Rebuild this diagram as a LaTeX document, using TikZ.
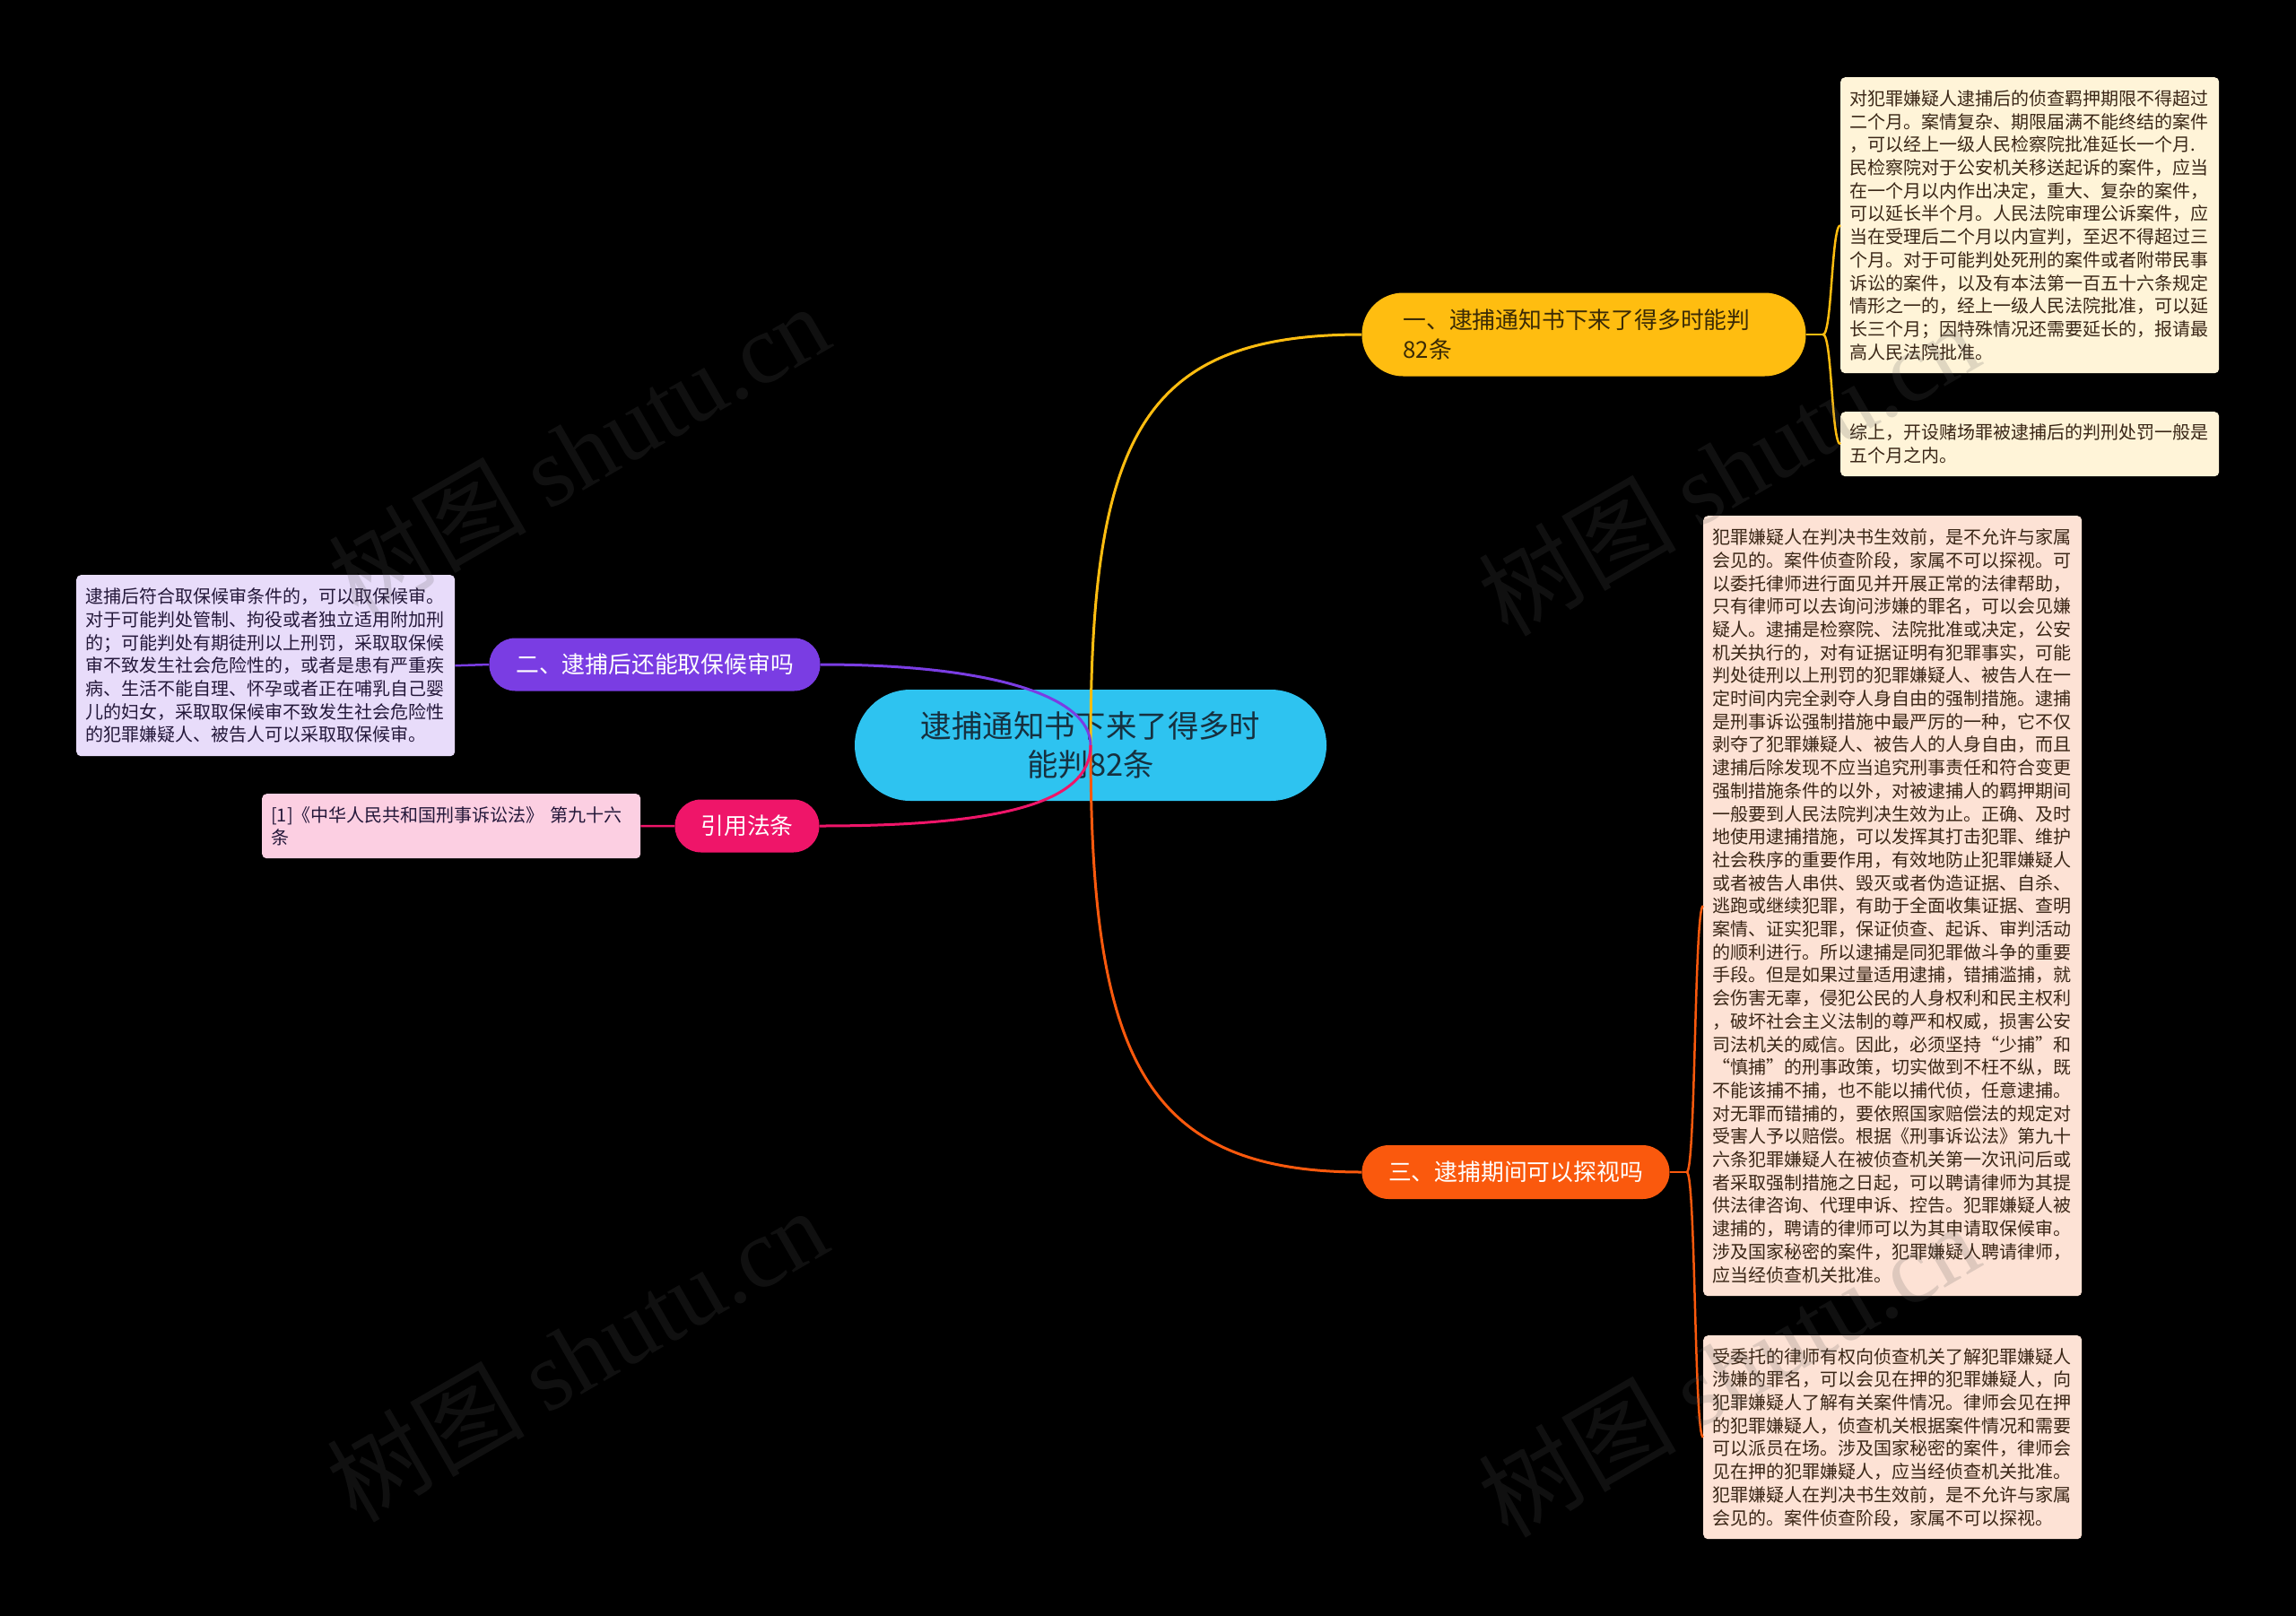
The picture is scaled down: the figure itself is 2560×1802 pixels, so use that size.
\documentclass[tikz,border=0pt]{standalone}
\usepackage{fontspec}
\setmainfont{Noto Sans CJK SC}
\newfontfamily\wmserif{Liberation Serif}

\definecolor{rootfill}{HTML}{2EC3F0}
\definecolor{roottext}{HTML}{16303F}
\definecolor{yelfill}{HTML}{FFBD10}
\definecolor{yeltext}{HTML}{3A2A05}
\definecolor{purfill}{HTML}{7A3DE3}
\definecolor{pinkfill}{HTML}{EF1569}
\definecolor{orafill}{HTML}{FA590D}
\definecolor{yelleaf}{HTML}{FFF4D8}
\definecolor{oraleaf}{HTML}{FDE2D5}
\definecolor{purleaf}{HTML}{E8DCFA}
\definecolor{pinkleaf}{HTML}{FCCFE2}
\definecolor{leaftext}{HTML}{3A2616}
\definecolor{purtext}{HTML}{24183A}

\begin{document}
\begin{tikzpicture}[x=1pt, y=-1pt,
    pill/.style={rounded corners=#1, inner sep=0pt, align=center},
    branch/.style={font=\fontsize{25.8}{32.7}\selectfont, text=white},
    leaf/.style={anchor=north west, rounded corners=5pt, align=left, inner xsep=10pt, inner ysep=0pt,
                 text width=402pt, text=leaftext, font=\fontsize{20}{25.7}\selectfont},
    link/.style={line width=3pt},
    sublink/.style={line width=2.5pt},
    wm/.style={font=\fontsize{110}{110}\selectfont, text=black!65, opacity=0.19, rotate=30}]
    \useasboundingbox (0,0) rectangle (2560,1802);
    \fill[black] (0,0) rectangle (2560,1802);

    % centre
    \node[pill=62pt, fill=rootfill, text=roottext, minimum width=526pt, minimum height=124pt,
          font=\fontsize{34.4}{42.5}\selectfont] (root) at (1216,831) {逮捕通知书下来了得多时\\能判82条};

    % branches
    \node[pill=46pt, fill=yelfill, branch, text=yeltext, minimum height=93pt, align=left,
          text width=403pt, inner xsep=46pt] (b1) at (1766,373) {一、逮捕通知书下来了得多时能判\\82条};
    \node[pill=29pt, fill=purfill, branch, minimum width=369pt, minimum height=59pt] (b2) at (730,741) {二、逮捕后还能取保候审吗};
    \node[pill=29pt, fill=pinkfill, branch, minimum width=161pt, minimum height=59pt] (bc) at (833,921) {引用法条};
    \node[pill=30pt, fill=orafill, branch, minimum width=343pt, minimum height=60pt] (b3) at (1690,1307) {三、逮捕期间可以探视吗};

    % leaves
    \node[leaf, fill=yelleaf, minimum height=330pt] (y1) at (2052,86) {对犯罪嫌疑人逮捕后的侦查羁押期限不得超过\\
二个月。案情复杂、期限届满不能终结的案件\\
，可以经上一级人民检察院批准延长一个月.\\
民检察院对于公安机关移送起诉的案件，应当\\
在一个月以内作出决定，重大、复杂的案件，\\
可以延长半个月。人民法院审理公诉案件，应\\
当在受理后二个月以内宣判，至迟不得超过三\\
个月。对于可能判处死刑的案件或者附带民事\\
诉讼的案件，以及有本法第一百五十六条规定\\
情形之一的，经上一级人民法院批准，可以延\\
长三个月；因特殊情况还需要延长的，报请最\\
高人民法院批准。};
    \node[leaf, fill=yelleaf, minimum height=72pt] (y2) at (2052,459) {综上，开设赌场罪被逮捕后的判刑处罚一般是\\五个月之内。};
    \node[leaf, fill=oraleaf, minimum height=870pt] (o1) at (1899,575) {犯罪嫌疑人在判决书生效前，是不允许与家属\\
会见的。案件侦查阶段，家属不可以探视。可\\
以委托律师进行面见并开展正常的法律帮助，\\
只有律师可以去询问涉嫌的罪名，可以会见嫌\\
疑人。逮捕是检察院、法院批准或决定，公安\\
机关执行的，对有证据证明有犯罪事实，可能\\
判处徒刑以上刑罚的犯罪嫌疑人、被告人在一\\
定时间内完全剥夺人身自由的强制措施。逮捕\\
是刑事诉讼强制措施中最严厉的一种，它不仅\\
剥夺了犯罪嫌疑人、被告人的人身自由，而且\\
逮捕后除发现不应当追究刑事责任和符合变更\\
强制措施条件的以外，对被逮捕人的羁押期间\\
一般要到人民法院判决生效为止。正确、及时\\
地使用逮捕措施，可以发挥其打击犯罪、维护\\
社会秩序的重要作用，有效地防止犯罪嫌疑人\\
或者被告人串供、毁灭或者伪造证据、自杀、\\
逃跑或继续犯罪，有助于全面收集证据、查明\\
案情、证实犯罪，保证侦查、起诉、审判活动\\
的顺利进行。所以逮捕是同犯罪做斗争的重要\\
手段。但是如果过量适用逮捕，错捕滥捕，就\\
会伤害无辜，侵犯公民的人身权利和民主权利\\
，破坏社会主义法制的尊严和权威，损害公安\\
司法机关的威信。因此，必须坚持“少捕”和\\
“慎捕”的刑事政策，切实做到不枉不纵，既\\
不能该捕不捕，也不能以捕代侦，任意逮捕。\\
对无罪而错捕的，要依照国家赔偿法的规定对\\
受害人予以赔偿。根据《刑事诉讼法》第九十\\
六条犯罪嫌疑人在被侦查机关第一次讯问后或\\
者采取强制措施之日起，可以聘请律师为其提\\
供法律咨询、代理申诉、控告。犯罪嫌疑人被\\
逮捕的，聘请的律师可以为其申请取保候审。\\
涉及国家秘密的案件，犯罪嫌疑人聘请律师，\\
应当经侦查机关批准。};
    \node[leaf, fill=oraleaf, minimum height=227pt] (o2) at (1899,1489) {受委托的律师有权向侦查机关了解犯罪嫌疑人\\
涉嫌的罪名，可以会见在押的犯罪嫌疑人，向\\
犯罪嫌疑人了解有关案件情况。律师会见在押\\
的犯罪嫌疑人，侦查机关根据案件情况和需要\\
可以派员在场。涉及国家秘密的案件，律师会\\
见在押的犯罪嫌疑人，应当经侦查机关批准。\\
犯罪嫌疑人在判决书生效前，是不允许与家属\\
会见的。案件侦查阶段，家属不可以探视。};
    \node[leaf, fill=purleaf, text=purtext, minimum height=202pt] (p1) at (85,641) {逮捕后符合取保候审条件的，可以取保候审。\\
对于可能判处管制、拘役或者独立适用附加刑\\
的；可能判处有期徒刑以上刑罚，采取取保候\\
审不致发生社会危险性的，或者是患有严重疾\\
病、生活不能自理、怀孕或者正在哺乳自己婴\\
儿的妇女，采取取保候审不致发生社会危险性\\
的犯罪嫌疑人、被告人可以采取取保候审。};
    \node[leaf, fill=pinkleaf, text=purtext, minimum height=72pt] (c1) at (292,885) {[1]《中华人民共和国刑事诉讼法》 第九十六\\条};

    % centre -> branches
    \draw[link, yelfill] (root.center) .. controls +(0,-345) and +(-245,0) .. (b1.west);
    \draw[link, orafill] (root.center) .. controls +(0,345) and +(-245,0) .. (b3.west);
    \draw[link, purfill] (root.center) .. controls +(0,-55) and +(190,0) .. (b2.east);
    \draw[link, pinkfill] (root.center) .. controls +(0,65) and +(200,0) .. (bc.east);

    % branches -> leaves
    \draw[sublink, yelfill] (b1.east) -- ++(19,0) coordinate (b1s);
    \draw[sublink, yelfill] (b1s) .. controls +(10,0) and +(-10,0) .. (y1.west);
    \draw[sublink, yelfill] (b1s) .. controls +(10,0) and +(-10,0) .. (y2.west);
    \draw[sublink, orafill] (b3.east) -- ++(19,0) coordinate (b3s);
    \draw[sublink, orafill] (b3s) .. controls +(10,0) and +(-10,0) .. (o1.west);
    \draw[sublink, orafill] (b3s) .. controls +(10,0) and +(-10,0) .. (o2.west);
    \draw[sublink, purfill] (b2.west) -- (p1.east);
    \draw[sublink, pinkfill] (bc.west) -- (c1.east);

    % watermark
    \node[wm] (wm1) at (645,502) {树图 {\wmserif shutu.cn}};
    \node[wm] (wm2) at (643,1510) {树图 {\wmserif shutu.cn}};
    \node[wm] (wm3) at (1927,522) {树图 {\wmserif shutu.cn}};
    \node[wm] (wm4) at (1927,1527) {树图 {\wmserif shutu.cn}};
\end{tikzpicture}
\end{document}
